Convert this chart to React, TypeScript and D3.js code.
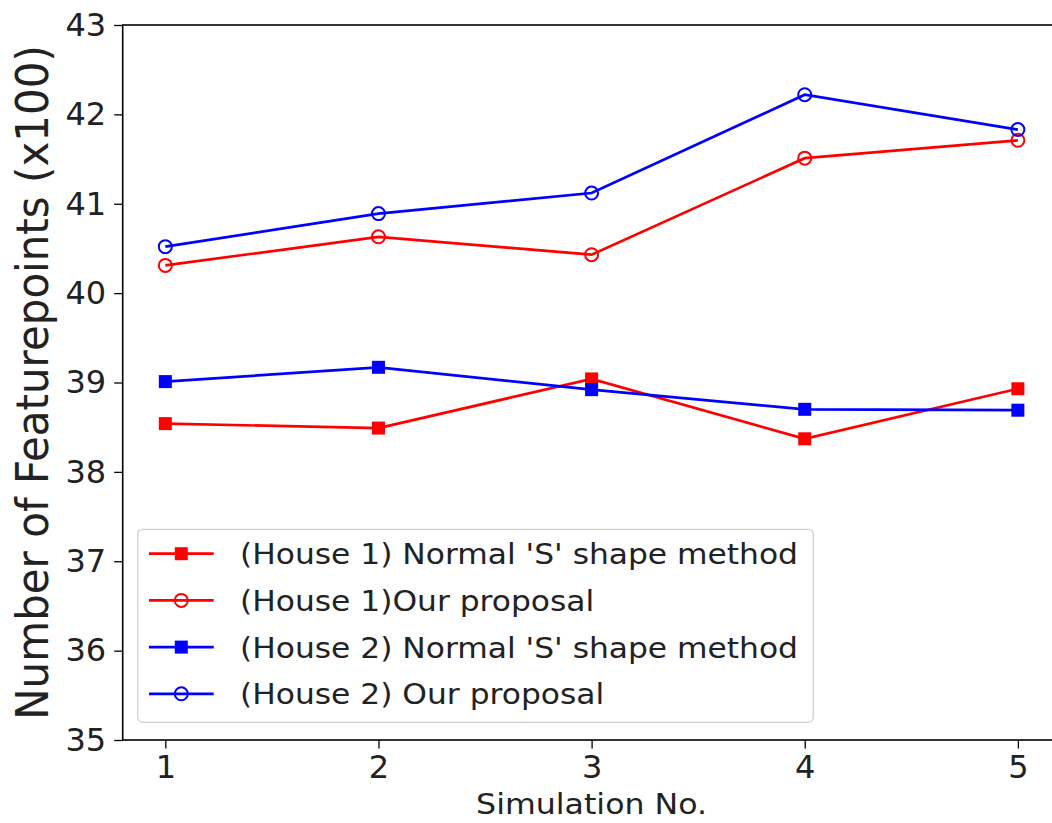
import React, { useEffect, useRef } from "react";
import * as d3 from "d3";

const simulations = [1, 2, 3, 4, 5];
const house1Normal = [38.54, 38.49, 39.04, 38.37, 38.93];
const house1Ours = [40.31, 40.63, 40.43, 41.51, 41.71];
const house2Normal = [39.01, 39.17, 38.92, 38.7, 38.69];
const house2Ours = [40.52, 40.89, 41.12, 42.22, 41.83];
const yTicks = [35, 36, 37, 38, 39, 40, 41, 42, 43];

const seriesList = [
  { label: "(House 1) Normal 'S' shape method", values: house1Normal, color: "#ff0000", marker: "square" },
  { label: "(House 1)Our proposal", values: house1Ours, color: "#ff0000", marker: "circle" },
  { label: "(House 2) Normal 'S' shape method", values: house2Normal, color: "#0000ff", marker: "square" },
  { label: "(House 2) Our proposal", values: house2Ours, color: "#0000ff", marker: "circle" },
];

const W = 1052;
const H = 823;
const FONT = "DejaVu Sans, sans-serif";

const App = () => {
  const ref = useRef<SVGSVGElement>(null);

  useEffect(() => {
    const svg = d3.select(ref.current);
    svg.selectAll("*").remove();

    const left = 122.7;
    const right = 1060.5;
    const top = 25;
    const bottom = 740;

    const x = d3.scaleLinear().domain([0.8, 5.2]).range([left, right]);
    const y = d3.scaleLinear().domain([35, 43]).range([bottom, top]);

    svg.append("rect").attr("width", W).attr("height", H).attr("fill", "#fff");

    // y axis
    const yAxis = svg
      .append("g")
      .attr("transform", `translate(${left},0)`)
      .call(d3.axisLeft(y).tickValues(yTicks).tickFormat(d3.format("d")).tickSize(8.5).tickPadding(8));
    yAxis.select(".domain").remove();
    yAxis.selectAll("line").attr("stroke", "#000").attr("stroke-width", 1.3);
    yAxis.selectAll("text").attr("font-family", FONT).attr("font-size", 32).attr("fill", "#222");

    // x axis
    const xAxis = svg
      .append("g")
      .attr("transform", `translate(0,${bottom})`)
      .call(d3.axisBottom(x).tickValues(simulations).tickFormat(d3.format("d")).tickSize(8.5).tickPadding(7));
    xAxis.select(".domain").remove();
    xAxis.selectAll("line").attr("stroke", "#000").attr("stroke-width", 1.3);
    xAxis.selectAll("text").attr("font-family", FONT).attr("font-size", 32).attr("fill", "#222");

    // frame
    svg
      .append("rect")
      .attr("x", left)
      .attr("y", top)
      .attr("width", right - left)
      .attr("height", bottom - top)
      .attr("fill", "none")
      .attr("stroke", "#000")
      .attr("stroke-width", 1.6);

    const line = d3
      .line<number>()
      .x((d, i) => x(simulations[i]))
      .y((d) => y(d));

    const drawMarker = (g, marker, color, cx, cy) => {
      if (marker === "square") {
        g.append("rect")
          .attr("x", cx - 6.5)
          .attr("y", cy - 6.5)
          .attr("width", 13)
          .attr("height", 13)
          .attr("fill", color);
      } else {
        g.append("circle")
          .attr("cx", cx)
          .attr("cy", cy)
          .attr("r", 6.5)
          .attr("fill", "none")
          .attr("stroke", color)
          .attr("stroke-width", 2);
      }
    };

    seriesList.forEach((s) => {
      const g = svg.append("g");
      g.append("path")
        .attr("d", line(s.values))
        .attr("fill", "none")
        .attr("stroke", s.color)
        .attr("stroke-width", 2.7);
      s.values.forEach((v, i) => drawMarker(g, s.marker, s.color, x(simulations[i]), y(v)));
    });

    // legend
    const lg = svg.append("g");
    lg.append("rect")
      .attr("x", 137.7)
      .attr("y", 529.3)
      .attr("width", 675.6)
      .attr("height", 193)
      .attr("rx", 5)
      .attr("fill", "#fff")
      .attr("fill-opacity", 0.8)
      .attr("stroke", "#d0d0d0")
      .attr("stroke-width", 1.3);
    seriesList.forEach((s, i) => {
      const ly = 553.7 + i * 46.7;
      lg.append("line")
        .attr("x1", 149)
        .attr("x2", 213.7)
        .attr("y1", ly)
        .attr("y2", ly)
        .attr("stroke", s.color)
        .attr("stroke-width", 2.7);
      drawMarker(lg, s.marker, s.color, 181.3, ly);
      lg.append("text")
        .attr("transform", `translate(240,${ly}) scale(1.08,1)`)
        .attr("dy", "0.36em")
        .attr("font-family", FONT)
        .attr("font-size", 29)
        .attr("fill", "#222")
        .text(s.label);
    });

    // axis labels
    svg
      .append("text")
      .attr("transform", `translate(${(left + right) / 2},814) scale(1.13,1)`)
      .attr("text-anchor", "middle")
      .attr("font-family", FONT)
      .attr("font-size", 28)
      .attr("fill", "#222")
      .text("Simulation No.");

    svg
      .append("text")
      .attr("transform", `translate(48,${(top + bottom) / 2}) scale(1.07,1) rotate(-90)`)
      .attr("text-anchor", "middle")
      .attr("font-family", FONT)
      .attr("font-size", 42)
      .attr("fill", "#222")
      .text("Number of Featurepoints (x100)");
  }, []);

  return (
    <svg
      ref={ref}
      width={W}
      height={H}
      style={{ position: "absolute", left: 0, top: 0, display: "block" }}
    />
  );
};

export default App;
